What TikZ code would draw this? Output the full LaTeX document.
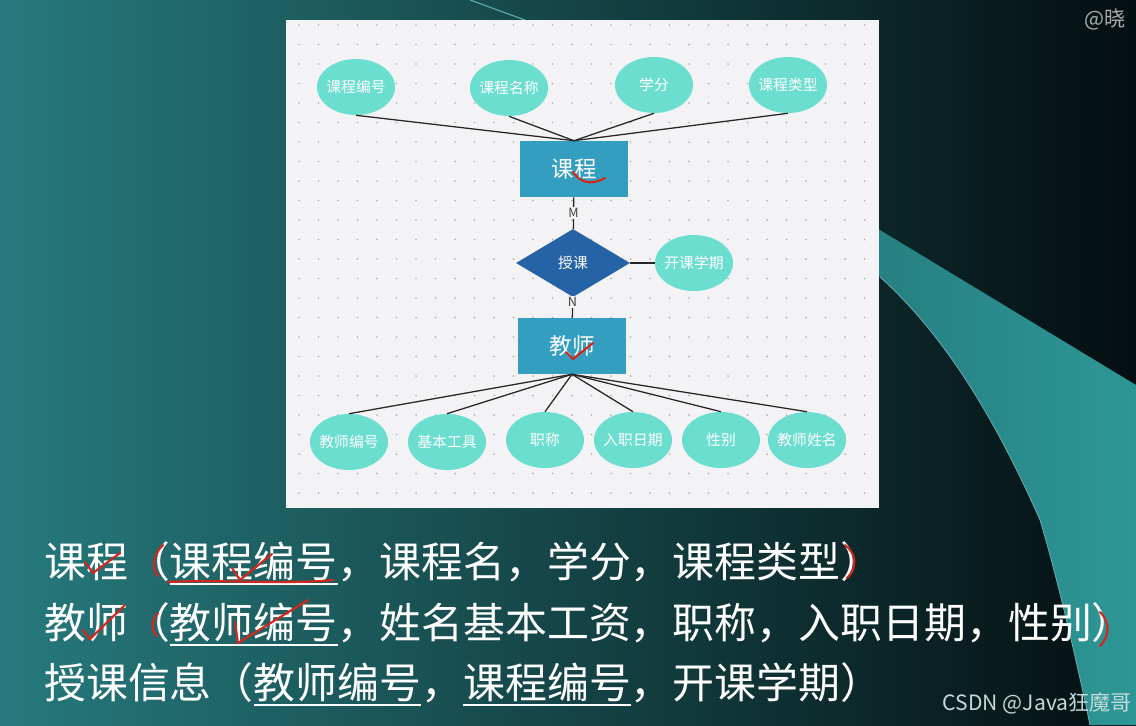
\documentclass[tikz,border=0pt]{standalone}
\usepackage{fontspec}
\usetikzlibrary{shapes.geometric,positioning}
\newfontfamily\cjk{Noto Sans CJK SC}
\definecolor{bgleft}{RGB}{38,122,125}
\definecolor{bgmid}{RGB}{28,95,100}
\definecolor{bgright}{RGB}{4,14,16}
\definecolor{swooshl}{RGB}{38,126,128}
\definecolor{swooshr}{RGB}{46,150,150}
\definecolor{panelbg}{RGB}{243,243,246}
\definecolor{attrfill}{RGB}{108,222,208}
\definecolor{entfill}{RGB}{52,158,192}
\definecolor{relfill}{RGB}{38,98,166}
\definecolor{penred}{RGB}{214,38,28}
\newsavebox\keybox
\newcommand{\keyul}[1]{\sbox\keybox{#1}\rlap{\rule[-5.5pt]{\wd\keybox}{1.3pt}}\usebox\keybox}

\begin{document}
\begin{tikzpicture}[x=0.025cm,y=-0.025cm,
  attr/.style={ellipse,fill=attrfill,minimum width=1.95cm,minimum height=1.4cm,inner sep=-2pt,text=white,font=\cjk\fontsize{10.5}{12}\selectfont},
  entity/.style={rectangle,fill=entfill,minimum width=2.7cm,minimum height=1.4cm,text=white,font=\cjk\fontsize{16}{19}\selectfont},
  rel/.style={diamond,fill=relfill,minimum width=2.85cm,minimum height=1.7cm,inner sep=0pt,text=white,font=\cjk\fontsize{10.5}{12}\selectfont},
  link/.style={draw=black!85,line width=0.9pt},
  card/.style={fill=panelbg,inner sep=1pt,text=black!75,font=\cjk\fontsize{9}{10}\selectfont},
  slide/.style={anchor=west,inner sep=0pt,text=white,font=\cjk\fontsize{29.8}{34}\selectfont},
  pen/.style={draw=penred,line width=1.5pt,line cap=round,line join=round}
]
  \useasboundingbox (0,0) rectangle (1136,725);
  % slide background
  \shade[left color=bgleft,middle color=bgmid,right color=bgright] (0,0) rectangle (1136,725);
  \shade[left color=swooshl,right color=swooshr] (860,218) -- (1136,385) -- (1136,725) -- (1090,725)
    .. controls (1070,630) and (1052,560) .. (1040,520)
    .. controls (1000,430) and (950,340) .. (880,277) -- (860,262) -- cycle;
  \draw[color=swooshr!70!white,line width=0.5pt] (1090,725) .. controls (1070,630) and (1052,560) .. (1040,520)
    .. controls (1000,430) and (950,340) .. (880,277);
  \draw[color=swooshr!80!white,line width=0.8pt] (470,0) -- (525,20);

  % diagram panel
  \fill[panelbg] (286,20) rectangle (879,508);
  \foreach \i in {0,...,29}
    \foreach \j in {0,...,24}
      \fill[black!32] (299+\i*19.5,25+\j*19.5) circle (0.7pt);

  \node[entity] (kc) at (574,169) {课程};
  \node[rel] (sk) at (573,263) {授课};
  \node[entity] (js) at (572,346) {教师};

  \node[attr] (kcbh) at (356,87) {课程编号};
  \node[attr] (kcmc) at (509,88) {课程名称};
  \node[attr] (xf) at (654,85) {学分};
  \node[attr] (kclx) at (788,85) {课程类型};
  \node[attr] (kkxq) at (694,263) {开课学期};
  \node[attr] (jsbh) at (349,442) {教师编号};
  \node[attr] (jbgj) at (447,442) {基本工具};
  \node[attr] (zc) at (545,440) {职称};
  \node[attr] (rzrq) at (633,440) {入职日期};
  \node[attr] (xb) at (721,440) {性别};
  \node[attr] (jsxm) at (807,440) {教师姓名};

  \foreach \a in {kcbh,kcmc,xf,kclx}
    \draw[link] (\a.south) -- (kc.north);
  \foreach \a in {jsbh,jbgj,zc,rzrq,xb,jsxm}
    \draw[link] (js.south) -- (\a.north);
  \draw[link] (kc) -- node[card] {M} (sk);
  \draw[link] (sk) -- node[card,pos=0.25] {N} (js);
  \draw[link] (sk) -- (kkxq);

  % relation schemas
  \node[slide] (row1) at (44,563) {课程（\keyul{课程编号}，课程名，学分，课程类型）};
  \node[slide] (row2) at (44,624) {教师（\keyul{教师编号}，姓名基本工资，职称，入职日期，性别）};
  \node[slide] (row3) at (44,684) {授课信息（\keyul{教师编号}，\keyul{课程编号}，开课学期）};

  \node[anchor=east,inner sep=0pt,text=white!72!bgleft,font=\cjk\fontsize{15}{17}\selectfont] (mark) at (1132,703) {CSDN @Java狂魔哥};
  \node[anchor=west,inner sep=0pt,text=white!65!bgright,font=\cjk\fontsize{15}{17}\selectfont] (author) at (1084,20) {@晓};

  % pen marks
  \draw[pen] (573,172) .. controls (580,182) and (590,186) .. (605,178);
  \draw[pen] (566,352) -- (573,359) -- (593,343);
  \draw[pen] (85,562) -- (93,573) -- (120,553);
  \draw[pen] (163,545) .. controls (153,555) and (151,568) .. (158,576);
  \draw[pen] (232,568) -- (240,580) -- (272,554);
  \draw[pen] (168,582) .. controls (220,579) and (280,585) .. (333,580);
  \draw[pen] (845,545) .. controls (856,553) and (858,568) .. (847,578);
  \draw[pen] (83,630) -- (90,639) -- (125,605);
  \draw[pen] (158,613) .. controls (151,620) and (151,630) .. (157,636);
  \draw[pen] (235,622) -- (238,643) -- (308,600);
  \draw[pen] (1100,612) .. controls (1110,622) and (1110,636) .. (1100,646);
\end{tikzpicture}
\end{document}
